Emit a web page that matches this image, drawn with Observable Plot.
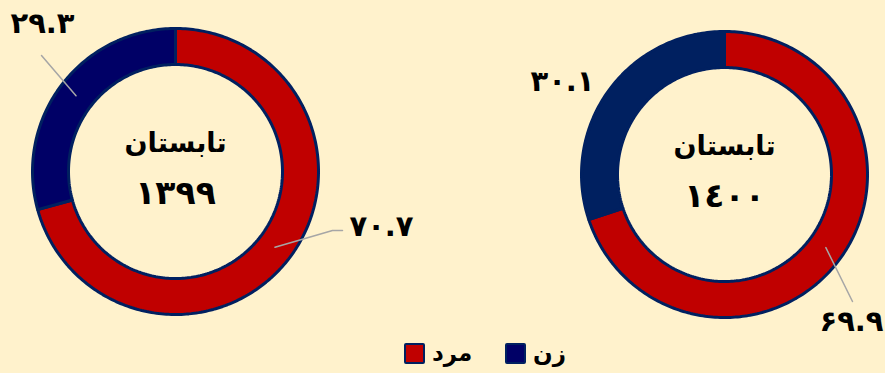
<!DOCTYPE html>
<html><head><meta charset="utf-8">
<script src="https://cdn.jsdelivr.net/npm/d3@7"></script>
<script src="https://cdn.jsdelivr.net/npm/@observablehq/plot@0.6"></script>
<style>
html,body{margin:0;padding:0;}
body{background:#FFF2CC;width:885px;height:373px;overflow:hidden;font-family:"DejaVu Sans",sans-serif;}
#legend{position:relative;height:30px;}
.item{position:absolute;top:0;height:30px;display:flex;align-items:center;}
.sw{width:17px;height:17px;border:2px solid #002060;border-radius:2px;margin-right:7px;}
.lt{font-weight:bold;font-size:23px;color:#000;}
</style></head><body>
<div id="chart"></div>
<div id="legend"></div>
<script>
// ---- data ----
const seasons = ["تابستان", "تابستان"];
const years = ["۱۳۹۹", "۱٤۰۰"];
const genders = ["مرد", "زن"];
const male = [70.7, 69.9];
const female = [29.3, 30.1];
const maleLabels = ["۷۰.۷", "۶۹.۹"];
const femaleLabels = ["۲۹.۳", "۳۰.۱"];

// ---- layout / style ----
const W = 885, H = 338;
const FONT = "DejaVu Sans";
const centers = [[175, 171], [724, 174]];
const rOuter = 143, rInner = 107;
const fills = [["#C00000", "#000066"], ["#C00000", "#002060"]];
const legendFills = ["#C00000", "#000066"];
const labelAt = [[[381, 226], [42, 23]], [[851, 321], [562, 81]]];
const leaderVia = [[[[332, 230], [342, 230]], [[41, 55]]], [[[852, 301]], null]];

const slices = [], leaders = [], labels = [], centerTexts = [];
for (let i = 0; i < years.length; i++) {
  const vals = [male[i], female[i]];
  const texts = [maleLabels[i], femaleLabels[i]];
  const total = d3.sum(vals);
  const [cx, cy] = centers[i];
  let acc = 0;
  vals.forEach((v, j) => {
    const a0 = acc / total * 2 * Math.PI, a1 = (acc + v) / total * 2 * Math.PI;
    acc += v;
    const n = Math.max(2, Math.ceil((a1 - a0) / (Math.PI / 180)) + 1);
    const pts = [];
    for (let k = 0; k < n; k++) { const a = a0 + (a1 - a0) * k / (n - 1); pts.push({x: cx + rOuter * Math.sin(a), y: cy - rOuter * Math.cos(a)}); }
    for (let k = n - 1; k >= 0; k--) { const a = a0 + (a1 - a0) * k / (n - 1); pts.push({x: cx + rInner * Math.sin(a), y: cy - rInner * Math.cos(a)}); }
    pts.push(pts[0]);
    slices.push({fill: fills[i][j], pts});
    const am = (a0 + a1) / 2, rm = (rOuter + rInner) / 2;
    const start = {x: cx + rm * Math.sin(am), y: cy - rm * Math.cos(am)};
    const via = leaderVia[i][j];
    if (via) {
      leaders.push({id: i + "-" + j, ...start});
      via.forEach(p => leaders.push({id: i + "-" + j, x: p[0], y: p[1]}));
    }
    labels.push({x: labelAt[i][j][0], y: labelAt[i][j][1], text: texts[j]});
  });
  centerTexts.push({x: cx, y: cy - 28, text: seasons[i]});
  centerTexts.push({x: cx, y: cy + 22, text: years[i]});
}

const chart = Plot.plot({
  width: W, height: H, margin: 0,
  style: {background: "transparent", overflow: "visible"},
  x: {domain: [0, W], axis: null},
  y: {domain: [0, H], reverse: true, axis: null},
  marks: [
    ...slices.map(s => Plot.line(s.pts, {x: "x", y: "y", fill: s.fill, stroke: "#002060", strokeWidth: 3, strokeLinejoin: "miter"})),
    Plot.line(leaders, {x: "x", y: "y", z: "id", stroke: "#A6A6A6", strokeWidth: 1.5}),
    Plot.text(labels, {x: "x", y: "y", text: "text", fontSize: 29, fontWeight: "bold", fill: "#000", fontFamily: FONT}),
    Plot.text(centerTexts.filter((d, k) => k % 2 === 0), {x: "x", y: "y", text: "text", fontSize: 27, fontWeight: "bold", fill: "#000", fontFamily: FONT}),
    Plot.text(centerTexts.filter((d, k) => k % 2 === 1), {x: "x", y: "y", text: "text", fontSize: 33, fontWeight: "bold", fill: "#000", fontFamily: FONT})
  ]
});
document.getElementById("chart").appendChild(chart);

const legend = document.getElementById("legend");
const legendX = [404, 505];
genders.forEach((g, j) => {
  const it = document.createElement("div");
  it.className = "item";
  it.style.left = legendX[j] + "px";
  const sw = document.createElement("div");
  sw.className = "sw"; sw.style.background = legendFills[j];
  const t = document.createElement("span");
  t.className = "lt"; t.textContent = g; t.style.fontFamily = FONT;
  it.appendChild(sw); it.appendChild(t);
  legend.appendChild(it);
});
</script>
</body></html>
